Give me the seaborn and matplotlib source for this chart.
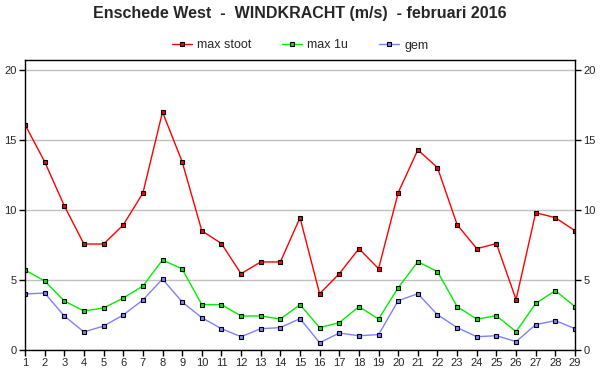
import matplotlib
matplotlib.use("Agg")
import matplotlib.pyplot as plt
import seaborn as sns
import pandas as pd

days = list(range(1, 30))
max_stoot = [16.1, 13.45, 10.3, 7.57, 7.57, 8.93, 11.2, 17.0, 13.45,
             8.52, 7.6, 5.45, 6.29, 6.29, 9.45, 4.02, 5.45, 7.24, 5.81,
             11.24, 14.3, 13.02, 8.95, 7.24, 7.6, 3.6, 9.81, 9.45, 8.52]
max_1u = [5.71, 4.93, 3.5, 2.79, 3.0, 3.71, 4.57, 6.43, 5.79,
          3.24, 3.24, 2.43, 2.43, 2.21, 3.24, 1.6, 1.95, 3.1, 2.21,
          4.45, 6.31, 5.6, 3.1, 2.21, 2.45, 1.31, 3.33, 4.24, 3.1]
gem = [4.0, 4.07, 2.43, 1.29, 1.71, 2.5, 3.57, 5.07, 3.43,
       2.31, 1.52, 0.95, 1.52, 1.6, 2.24, 0.52, 1.21, 1.02, 1.1,
       3.52, 4.02, 2.52, 1.6, 0.95, 1.02, 0.6, 1.81, 2.1, 1.52]
series_names = ["max stoot", "max 1u", "gem"]
colors = ["#ff0000", "#00ee00", "#8080ff"]
title = "Enschede West  -  WINDKRACHT (m/s)  - februari 2016"

df = pd.DataFrame({
    "dag": days * 3,
    "waarde": max_stoot + max_1u + gem,
    "reeks": [series_names[0]] * 29 + [series_names[1]] * 29 + [series_names[2]] * 29,
})

sns.set_style("white")
plt.rcParams["font.family"] = ["Liberation Sans", "DejaVu Sans"]

fig = plt.figure(figsize=(6, 3.9), dpi=100)
ax = fig.add_axes([25/600, 40/390, 550/600, 290/390])

for name, c in zip(series_names, colors):
    sub = df[df["reeks"] == name]
    sns.lineplot(data=sub, x="dag", y="waarde", ax=ax, color=c, lw=1,
                 marker="s", markersize=3.5, markerfacecolor=c,
                 markeredgecolor="black", markeredgewidth=0.8, label=name)

ax.set_xlim(1, 29)
ax.set_ylim(0, 290/14)
ax.set_xticks(days)
ax.set_yticks([0, 5, 10, 15, 20])
ax.set_xlabel("")
ax.set_ylabel("")
ax.grid(axis="y", color="#c0c0c0", lw=1)
ax.set_axisbelow(True)
for s in ax.spines.values():
    s.set_color("black")
    s.set_linewidth(1)
ax.tick_params(axis="both", labelsize=8, length=4, width=1, color="black",
               left=True, bottom=True, right=True, labelright=True, pad=2)

handles, labels = ax.get_legend_handles_labels()
if ax.legend_:
    ax.legend_.remove()
fig.legend(handles, labels, loc="center", bbox_to_anchor=(0.5, 1 - 45.5/390),
           ncol=3, frameon=False, fontsize=9, handlelength=1.6, columnspacing=2.5,
           handletextpad=0.4)
fig.text(0.5, 1 - 13.5/390, title, ha="center", va="center", fontsize=11.5,
         fontweight="bold")

fig.savefig("out.png", dpi=100)
